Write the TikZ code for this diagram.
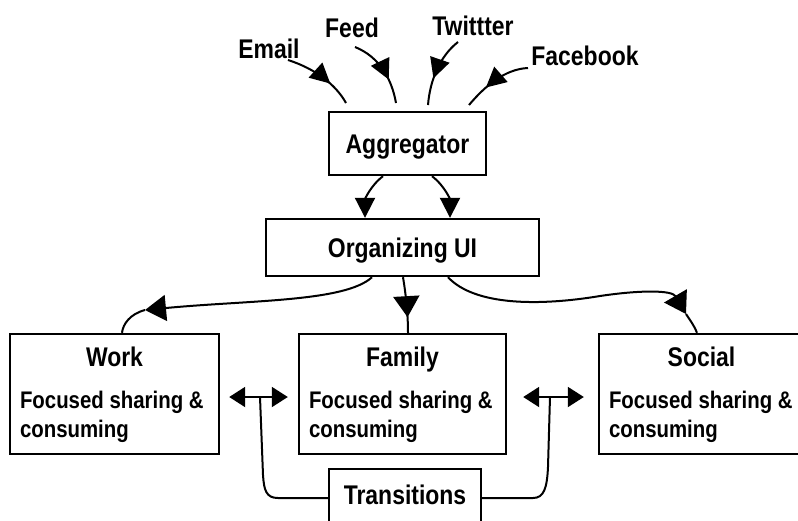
\documentclass[tikz,border=0pt]{standalone}
\usepackage{fontspec}
\setmainfont{Liberation Sans}[FakeStretch=0.85]
\usetikzlibrary{arrows.meta,calc,decorations.markings}

\begin{document}
\begin{tikzpicture}[x=1pt,y=-1pt,
  box/.style={draw, line width=2.4pt, inner sep=0pt},
  headfont/.style={font=\bfseries\fontsize{27}{30}\selectfont},
  head/.style={headfont, inner sep=0pt, anchor=base},
  body/.style={font=\bfseries\fontsize{24}{28}\selectfont, inner sep=0pt, anchor=base west},
  conn/.style={line width=2pt},
  bigtip/.tip={Triangle[length=20pt 0 0,width=20pt 0 0]},
  widetip/.tip={Triangle[length=21pt 0 0,width=26pt 0 0]},
  duotip/.tip={Triangle[length=16pt 0 0,width=20pt 0 0]},
  midtip/.style={postaction={decorate}, decoration={markings,
      mark=at position #1 with {\arrow{bigtip}}}},
  midwide/.style={postaction={decorate}, decoration={markings,
      mark=at position #1 with {\arrow{widetip}}}},
]
\fill[white] (0,0) rectangle (798,520);
\useasboundingbox (0,0) rectangle (798,520);
\clip (0,0) rectangle (798,520);

% source labels
\node[head] (email) at (269,58) {Email};
\node[head] (feed)  at (352,37) {Feed};
\node[head] (twit)  at (473,35) {Twittter};
\node[head] (fb)    at (585,65) {Facebook};

% boxes
\node[box, headfont, minimum width=157pt, minimum height=63pt,
      text height=19.5pt, text depth=0pt] (aggr) at (407.5,143.5) {Aggregator};
\node[box, headfont, minimum width=273pt, minimum height=57pt,
      text height=19.5pt, text depth=0pt] (org) at (402.5,247.5) {Organizing UI};
\node[box, minimum width=209pt, minimum height=120pt] (work)   at (114.5,394) {};
\node[box, minimum width=207pt, minimum height=120pt] (family) at (402.5,394) {};
\node[box, minimum width=209pt, minimum height=120pt] (social) at (703.5,394) {};
\node[box, headfont, minimum width=152pt, minimum height=62pt,
      text height=19.5pt, text depth=10pt] (trans) at (405,500) {Transitions};

% box contents
\node[head] (workT)   at ($(work.north)+(0,34)$)   {Work};
\node[head] (familyT) at ($(family.north)+(0,34)$) {Family};
\node[head] (socialT) at ($(social.north)+(-2,34)$) {Social};
\foreach \b in {work,family,social}{
  \node[body] (\b A) at ($(\b.north west)+(11,76)$)  {Focused sharing \&};
  \node[body] (\b B) at ($(\b.north west)+(11,105)$) {consuming};
}

% feeds into the aggregator
\coordinate (e0) at (288,60);  \coordinate (e1) at (346,103);
\coordinate (f0) at (355,47);  \coordinate (f1) at (396,103);
\coordinate (t0) at (458,42);  \coordinate (t1) at (428,105);
\coordinate (b0) at (528,68);  \coordinate (b1) at (469,105);
\draw[conn, midtip=0.66] (e0) .. controls (316,69) and (336,85) .. (e1);
\draw[conn, midtip=0.66] (f0) .. controls (380,57) and (392,80) .. (f1);
\draw[conn, midtip=0.62] (t0) .. controls (440,56) and (430,80) .. (t1);
\draw[conn, midtip=0.66] (b0) .. controls (505,69) and (485,86) .. (b1);

% aggregator to organizing UI
\draw[conn, -{bigtip}] ([xshift=-24.5pt]aggr.south) .. controls (370,186) and (365,200) .. ([xshift=-37.5pt]org.north);
\draw[conn, -{bigtip}] ([xshift=24.5pt]aggr.south) .. controls (445,186) and (450,200) .. ([xshift=47.5pt]org.north);

% organizing UI to the three contexts
\coordinate (wk) at (145,310);
\draw[conn, -{widetip}] ([xshift=-30.5pt]org.south) .. controls (345,302) and (250,300) .. (wk);
\draw[conn] (wk) .. controls (130,314) and (123,324) .. ([xshift=7.5pt]work.north);
\draw[conn, midwide=0.72] ([xshift=0.5pt]org.south) .. controls (406,295) and (408,315) .. ([xshift=5.5pt]family.north);
\coordinate (sc) at (686,314);
\draw[conn, -{widetip}] ([xshift=45.5pt]org.south) .. controls (475,306) and (540,306) .. (600,296)
      .. controls (640,290) and (672,290) .. (sc);
\draw[conn] (sc) .. controls (690,320) and (695,327) .. ([xshift=-6.5pt]social.north);

% transitions between contexts
\coordinate (wf) at (260,397);
\coordinate (fs) at (550,397);
\draw[conn, {duotip}-{duotip}] ([xshift=9pt,yshift=-3pt]work.east) -- ([xshift=-10pt,yshift=-3pt]family.west);
\draw[conn, {duotip}-{duotip}] ([xshift=16pt,yshift=-3pt]family.east) -- ([xshift=-14pt,yshift=-3pt]social.west);
\draw[conn] (trans.west |- 0,498) -- (278,498) .. controls (266,498) and (264,490) .. (263,475) -- (wf);
\draw[conn] (trans.east |- 0,498) -- (533,498) .. controls (544,498) and (547,488) .. (548,467) -- (fs);
\end{tikzpicture}
\end{document}
